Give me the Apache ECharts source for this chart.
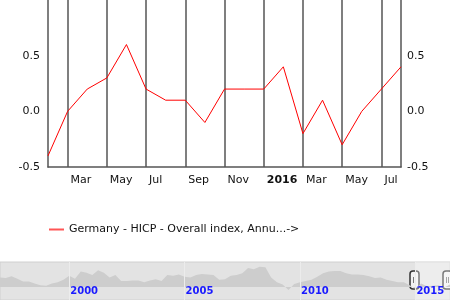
<!DOCTYPE html>
<html>
<head>
<meta charset="utf-8">
<script src="https://cdn.jsdelivr.net/npm/echarts@6/dist/echarts.min.js"></script>
<style>html,body{margin:0;padding:0;background:#fff}#c{width:450px;height:300px}</style>
</head>
<body>
<div id="c"></div>
<script>
// Main chart: monthly, Jan 2015 .. Jul 2016
var months = ['2015-01','2015-02','2015-03','2015-04','2015-05','2015-06','2015-07','2015-08','2015-09','2015-10','2015-11','2015-12',
              '2016-01','2016-02','2016-03','2016-04','2016-05','2016-06','2016-07'];
var values = [-0.4, 0.0, 0.2, 0.3, 0.6, 0.2, 0.1, 0.1, -0.1, 0.2, 0.2, 0.2, 0.4, -0.2, 0.1, -0.3, 0.0, 0.2, 0.4];
// labels placed at month boundaries (after Feb, Apr, ...)
var tickLabels = ['Mar','May','Jul','Sep','Nov','2016','Mar','May','Jul'];
var yTicks = [-0.5, 0.0, 0.5, 1.0];
var seriesName = 'Germany - HICP - Overall index, Annu...->';

// Navigator: quarterly, 1997 Q1 .. 2016 Q3
var navStartYear = 1997;
var navValues = [
  1.6, 1.5, 1.8, 1.4,
  0.9, 0.9, 0.6, 0.3,
  0.2, 0.6, 0.8, 1.2,
  1.9, 1.4, 2.6, 2.4,
  2.0, 2.8, 2.4, 1.6,
  2.0, 1.0, 1.0, 1.1,
  1.1, 0.8, 1.1, 1.3,
  1.0, 2.0, 1.9, 2.1,
  1.7, 1.6, 2.0, 2.2,
  2.1, 2.0, 1.2, 1.3,
  1.9, 2.0, 2.3, 3.2,
  3.0, 3.4, 3.3, 1.6,
  0.8, 0.4, -0.5, 0.5,
  0.8, 1.0, 1.2, 1.7,
  2.3, 2.6, 2.7, 2.7,
  2.3, 2.1, 2.1, 2.0,
  1.8, 1.5, 1.6, 1.2,
  1.0, 0.8, 0.8, 0.3,
  -0.3, 0.6, 0.1, 0.2,
  0.3, -0.1, 0.4
];
var navYearLabels = ['2000','2005','2010','2015'];
var navCats = [];
for (var i = 0; i < navValues.length; i++) {
  navCats.push((navStartYear + Math.floor(i / 4)) + ' Q' + (i % 4 + 1));
}
var navWindowStart = '2015 Q1';

var FONT = 'DejaVu Sans';
var chart = echarts.init(document.getElementById('c'), null, {renderer: 'canvas'});

function handle(x) {
  return {
    type: 'group', x: x, y: 271, z: 100,
    children: [
      {type: 'rect', shape: {x: 0, y: 0, width: 9, height: 18, r: 3}, style: {fill: '#f2f2f2', stroke: '#333', lineWidth: 1.5}},
      {type: 'line', shape: {x1: 3.5, y1: 6, x2: 3.5, y2: 12}, style: {stroke: '#777', lineWidth: 1}},
      {type: 'line', shape: {x1: 5.5, y1: 6, x2: 5.5, y2: 12}, style: {stroke: '#777', lineWidth: 1}}
    ]
  };
}
function isYearTick(idx) {
  return navYearLabels.indexOf(navCats[idx].slice(0, 4)) >= 0 && navCats[idx].slice(5) === 'Q1';
}

var option = {
  animation: false,
  backgroundColor: '#fff',
  textStyle: {fontFamily: FONT},
  legend: {
    left: 44, top: 219,
    itemWidth: 15, itemHeight: 2, icon: 'rect',
    textStyle: {fontFamily: FONT, fontSize: 11, color: '#111'},
    data: [{name: seriesName, itemStyle: {color: '#ff5555'}}]
  },
  grid: [
    {left: 48, right: 49, top: 0, bottom: 133, containLabel: false},
    {left: 0, right: 0, top: 262, height: 38, show: true, backgroundColor: '#e3e3e3', borderColor: '#d0d0d0', borderWidth: 1}
  ],
  xAxis: [
    {
      type: 'category', gridIndex: 0, data: months, boundaryGap: false,
      axisLine: {show: true, onZero: false, lineStyle: {color: '#555', width: 1.5}},
      axisTick: {show: false},
      splitLine: {show: true, interval: function (idx) { return idx % 2 === 1; }, lineStyle: {color: '#555', width: 1.5}},
      axisLabel: {
        interval: function (idx) { return idx % 2 === 1 && idx < months.length - 1; },
        align: 'left', padding: [0, 0, 0, 3], margin: 8,
        fontFamily: FONT, fontSize: 11, color: '#111',
        formatter: function (v, idx) {
          var t = tickLabels[(idx - 1) / 2];
          if (t === undefined) return '';
          return /^\d{4}$/.test(t) ? '{b|' + t + '}' : t;
        },
        rich: {b: {fontWeight: 'bold', fontFamily: FONT, fontSize: 11, color: '#111'}}
      }
    },
    {
      type: 'category', gridIndex: 1, data: navCats, boundaryGap: false, z: 20,
      axisLine: {show: false, onZero: false}, axisTick: {show: false},
      splitLine: {show: true, interval: isYearTick, lineStyle: {color: '#ececec', width: 1}},
      axisLabel: {
        inside: true, margin: 4, align: 'left', padding: [0, 0, 0, 1],
        interval: isYearTick,
        formatter: function (v) { return v.slice(0, 4); },
        fontFamily: FONT, fontSize: 10, fontWeight: 'bold', color: '#1a1aff'
      }
    }
  ],
  yAxis: [
    {
      type: 'value', gridIndex: 0, min: yTicks[0], max: yTicks[yTicks.length - 1], interval: 0.5, position: 'left',
      axisLine: {show: true, lineStyle: {color: '#555', width: 1.5}},
      axisTick: {show: false}, splitLine: {show: false},
      axisLabel: {showMaxLabel: false, margin: 8, fontFamily: FONT, fontSize: 11, color: '#111', formatter: function (v) { return v === 1 ? '' : v.toFixed(1); }}
    },
    {
      type: 'value', gridIndex: 0, min: yTicks[0], max: yTicks[yTicks.length - 1], interval: 0.5, position: 'right',
      axisLine: {show: true, lineStyle: {color: '#555', width: 1.5}},
      axisTick: {show: false}, splitLine: {show: false},
      axisLabel: {showMaxLabel: false, margin: 6, fontFamily: FONT, fontSize: 11, color: '#111', formatter: function (v) { return v === 1 ? '' : v.toFixed(1); }}
    },
    {
      type: 'value', gridIndex: 1, min: -2.2, max: 4.2, show: false,
      axisLine: {show: false}, splitLine: {show: false}, axisLabel: {show: false}
    }
  ],
  series: [
    {
      name: seriesName, type: 'line', xAxisIndex: 0, yAxisIndex: 0,
      data: values, showSymbol: false, symbol: 'none',
      lineStyle: {color: '#ff0000', width: 1}, itemStyle: {color: '#ff0000'}
    },
    {
      name: 'navigator', type: 'line', xAxisIndex: 1, yAxisIndex: 2, z: 1,
      data: navValues, showSymbol: false, symbol: 'none', silent: true,
      lineStyle: {width: 0, color: '#cccccc'},
      areaStyle: {color: '#cdcdcd', opacity: 1},
      markArea: {
        silent: true,
        itemStyle: {color: 'rgba(255,255,255,0.35)'},
        data: [[{xAxis: navWindowStart, yAxis: 4.2}, {xAxis: navCats[navCats.length - 1], yAxis: -2.2}]]
      }
    }
  ],
  graphic: [handle(410), handle(443)]
};
chart.setOption(option);
</script>
</body>
</html>
